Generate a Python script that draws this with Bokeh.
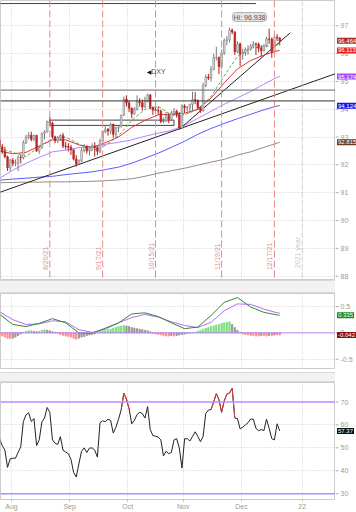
import math
import pandas as pd
from bokeh.plotting import figure
from bokeh.models import Range1d, FixedTicker, Span, Label, Div, ColumnDataSource
from bokeh.layouts import column, row
from bokeh.core.properties import value
from bokeh.embed import file_html
from bokeh.resources import INLINE

# ---------------- data ----------------
first_day = "2021-07-26"
last_day = "2021-12-21"

opens = [92.90, 92.65, 92.47, 92.29, 91.90,
         92.17, 92.06, 92.07, 92.27, 92.26, 92.80, 92.99, 93.07, 92.92, 93.06, 92.50, 92.62, 93.12, 93.19, 93.56,
         93.50, 93.01, 92.87, 92.98, 93.06, 92.68, 92.66,
         92.63, 92.54, 92.21, 92.03, 92.15, 92.52, 92.67, 92.50, 92.58, 92.66, 92.62, 92.49, 92.86, 93.20, 93.28,
         93.21, 93.46, 93.10, 93.33, 93.37, 93.78, 94.36,
         94.23, 94.04, 93.84, 94.00, 94.27, 94.23, 94.08, 94.31, 94.51, 94.06, 93.97, 93.96, 93.94, 93.56, 93.56,
         93.77, 93.64, 93.87, 93.93, 93.79, 93.33,
         94.12, 94.06, 94.06, 94.18, 94.35, 94.32, 94.06, 93.96, 94.85, 95.16, 95.12, 95.43, 95.86, 95.86, 95.53,
         96.03, 96.48, 96.49, 96.85, 96.78, 96.07, 96.35,
         95.99, 96.04, 96.15, 96.16, 96.27, 96.35, 96.34, 96.19, 96.10, 96.29, 96.53, 96.52, 96.06, 96.59, 96.56]
highs = [92.95, 92.75, 92.65, 92.33, 92.22,
         92.24, 92.20, 92.35, 92.36, 92.88, 93.08, 93.18, 93.19, 93.09, 93.08, 92.70, 93.17, 93.25, 93.59, 93.73,
         93.55, 93.05, 93.04, 93.10, 93.15, 92.82, 92.78,
         92.72, 92.56, 92.35, 92.20, 92.60, 92.75, 92.70, 92.64, 92.78, 92.82, 92.68, 92.94, 93.25, 93.44, 93.32,
         93.52, 93.48, 93.37, 93.42, 93.81, 94.46, 94.50,
         94.30, 94.06, 94.08, 94.50, 94.40, 94.35, 94.45, 94.56, 94.55, 94.10, 94.10, 94.10, 93.98, 93.70, 93.90,
         93.85, 93.95, 94.04, 93.98, 93.90, 94.18,
         94.18, 94.12, 94.20, 94.63, 94.62, 94.35, 94.10, 94.95, 95.25, 95.27, 95.55, 96.00, 96.25, 95.90, 96.15,
         96.55, 96.63, 96.938, 96.90, 96.80, 96.45, 96.40,
         96.18, 96.22, 96.30, 96.35, 96.45, 96.40, 96.40, 96.30, 96.35, 96.60, 96.90, 96.58, 96.70, 96.70, 96.60]
lows = [92.58, 92.40, 92.24, 91.78, 91.78,
        91.95, 91.95, 91.78, 92.05, 92.20, 92.75, 92.92, 92.85, 92.85, 92.47, 92.40, 92.58, 92.92, 93.16, 93.42,
        92.95, 92.78, 92.78, 92.85, 92.60, 92.55, 92.48,
        92.36, 92.16, 91.94, 92.00, 92.10, 92.45, 92.40, 92.34, 92.52, 92.30, 92.34, 92.42, 92.82, 93.13, 93.05,
        93.10, 92.98, 93.00, 93.17, 93.35, 93.76, 94.10,
        93.90, 93.68, 93.80, 93.95, 94.10, 93.95, 94.05, 94.25, 94.00, 93.80, 93.85, 93.80, 93.50, 93.50, 93.55,
        93.50, 93.58, 93.75, 93.70, 93.28, 93.30,
        93.87, 93.92, 93.85, 93.95, 94.18, 93.98, 93.87, 93.90, 94.80, 95.05, 95.00, 95.40, 95.75, 95.26, 95.45,
        95.95, 96.30, 96.40, 96.70, 95.95, 96.02, 95.55,
        95.78, 95.92, 95.96, 96.10, 96.20, 95.95, 96.05, 95.90, 96.08, 96.23, 96.35, 95.85, 96.00, 96.45, 96.30]
closes = [92.65, 92.47, 92.29, 91.90, 92.17,
          92.06, 92.07, 92.27, 92.26, 92.80, 92.99, 93.07, 92.92, 93.06, 92.50, 92.62, 93.12, 93.19, 93.56, 93.50,
          93.01, 92.87, 92.98, 93.06, 92.68, 92.66, 92.63,
          92.54, 92.21, 92.03, 92.15, 92.52, 92.67, 92.50, 92.58, 92.66, 92.62, 92.49, 92.86, 93.20, 93.28, 93.21,
          93.46, 93.10, 93.33, 93.37, 93.78, 94.36, 94.23,
          94.04, 93.84, 94.00, 94.27, 94.23, 94.08, 94.31, 94.51, 94.06, 93.97, 93.96, 93.94, 93.56, 93.56, 93.77,
          93.64, 93.87, 93.93, 93.79, 93.33, 94.12,
          94.06, 94.06, 94.18, 94.35, 94.32, 94.06, 93.96, 94.85, 95.16, 95.12, 95.43, 95.86, 95.86, 95.53, 96.03,
          96.48, 96.49, 96.85, 96.78, 96.07, 96.35, 95.99,
          96.04, 96.15, 96.16, 96.27, 96.35, 96.34, 96.19, 96.10, 96.29, 96.53, 96.52, 96.06, 96.59, 96.56, 96.464]

# moving averages, read weekly
ma_dates = ["2021-07-26", "2021-08-02", "2021-08-09", "2021-08-16", "2021-08-23", "2021-08-30",
            "2021-09-06", "2021-09-13", "2021-09-20", "2021-09-27", "2021-10-04", "2021-10-11",
            "2021-10-18", "2021-10-25", "2021-11-01", "2021-11-08", "2021-11-15", "2021-11-22",
            "2021-11-29", "2021-12-06", "2021-12-13", "2021-12-20", "2021-12-21"]
ma_red = [92.50, 92.40, 92.45, 92.68, 92.90, 92.90, 92.72, 92.62, 92.80, 93.00, 93.35, 93.60,
          93.80, 93.82, 93.86, 94.00, 94.40, 94.95, 95.45, 95.75, 95.95, 96.10, 96.113]
ma_green = [92.60, 92.45, 92.30, 92.65, 92.95, 93.00, 92.75, 92.50, 92.70, 93.05, 93.60, 94.00,
            94.10, 93.80, 93.80, 94.00, 94.45, 95.20, 95.90, 96.20, 96.25, 96.32, 96.33]
ma_purple = [91.52, 91.81, 92.06, 92.27, 92.47, 92.53, 92.62, 92.67, 92.74, 92.81, 92.90, 93.03,
             93.14, 93.24, 93.42, 93.67, 93.93, 94.18, 94.41, 94.64, 94.90, 95.15, 95.174]
ma_blue = [91.45, 91.49, 91.52, 91.56, 91.59, 91.65, 91.70, 91.75, 91.83, 91.92, 92.06, 92.24,
           92.42, 92.63, 92.85, 93.10, 93.31, 93.49, 93.66, 93.82, 93.98, 94.12, 94.124]
ma_brown = [91.36, 91.37, 91.38, 91.38, 91.39, 91.39, 91.40, 91.41, 91.43, 91.46, 91.50, 91.59,
            91.70, 91.79, 91.88, 91.99, 92.10, 92.20, 92.35, 92.47, 92.63, 92.78, 92.815]

macd_line = [0.35, 0.16, 0.12, 0.18, 0.27, 0.19, 0.00, -0.01, 0.09, 0.19, 0.36, 0.38,
             0.31, 0.19, 0.08, 0.11, 0.33, 0.58, 0.67, 0.49, 0.39, 0.34, 0.335]
macd_signal = [0.40, 0.25, 0.16, 0.17, 0.23, 0.21, 0.06, 0.01, 0.07, 0.19, 0.29, 0.35,
               0.30, 0.21, 0.14, 0.10, 0.20, 0.42, 0.55, 0.54, 0.45, 0.38, 0.377]
macd_hist = [-0.03, -0.06, -0.08, -0.10, -0.11,
             -0.10, -0.08, -0.05, -0.02,
             0.01, 0.03, 0.04, 0.04, 0.03, 0.02, 0.03, 0.05, 0.06,
             0.05, 0.04, 0.02, 0.01,
             -0.01, -0.03, -0.05, -0.06, -0.07, -0.08, -0.10, -0.12,
             -0.10, -0.08, -0.07, -0.05, -0.04, -0.03, -0.02,
             0.01, 0.03, 0.04, 0.05, 0.06, 0.07, 0.09, 0.10, 0.12, 0.13, 0.14, 0.13, 0.12,
             0.10, 0.09, 0.08, 0.07, 0.06, 0.05, 0.04, 0.02,
             -0.01, -0.02, -0.03, -0.04, -0.05, -0.06, -0.06, -0.05, -0.06, -0.05, -0.04, -0.03,
             -0.02, -0.01, -0.01, 0.00, 0.01,
             0.03, 0.05, 0.07, 0.09, 0.10, 0.12, 0.13, 0.15, 0.16, 0.18, 0.19, 0.20, 0.21,
             0.16, 0.10, 0.05, 0.01,
             -0.02, -0.03, -0.04, -0.05, -0.05, -0.06, -0.06, -0.05, -0.05, -0.06, -0.05, -0.05, -0.04, -0.04, -0.042]

rsi = [54, 51, 49, 41.5, 45.2,
       45.5, 45.5, 48, 50.5, 61.5, 64.4, 65.3, 61.5, 62.8, 51, 53.5, 61.3, 63, 67.6, 65.5,
       53.5, 52, 51.5, 54.9, 49, 48.2, 47.5,
       45, 39.3, 37.3, 43, 48.5, 50, 48, 49.9, 50, 49, 46, 61, 61.8, 61.4, 62.5,
       62, 56.5, 59, 62.5, 66.5, 73.9, 71.3,
       67, 60.5, 62, 64.5, 65.5, 65, 63, 68, 58, 55.4, 55.1, 54.7, 53.5, 46.5, 48.5,
       47.5, 48, 53.5, 54, 50, 41.2,
       54, 54, 53, 55, 57, 55, 52.7, 55, 65, 66.5, 66.7, 70, 73.6, 71, 65.5,
       70.5, 73.5, 73.9, 76, 63, 62.8, 58.3,
       59, 60, 61, 62.6, 62.5, 58.5, 57.5, 58, 57.5, 62.5, 58.5, 54, 53.5, 60.5, 57.37]

# drawn objects on the price pane
trend_start = ["2021-07-26", "2021-10-28"]
trend_start_val = [91.01, 93.28]
trend_end = ["2022-01-20", "2021-12-27"]
trend_end_val = [95.31, 96.75]
top_line_start, top_line_end, top_line_val = "2021-07-26", "2021-12-08", 97.80
levels = [94.69, 94.30]
range_start, range_end, range_top, range_bottom = "2021-08-20", "2021-10-26", 93.61, 93.42
expiry_dates = ["2021-08-20", "2021-09-17", "2021-10-15", "2021-11-19", "2021-12-17"]
expiry_labels = ["8/20/21", "9/17/21", "10/15/21", "11/19/21", "12/17/21"]
month_labels = ["Aug", "Sep", "Oct", "Nov", "Dec", "22"]
price_ticks = [88, 89, 90, 91, 92, 93, 94, 95, 96, 97]
macd_ticks = [-0.5, 0, 0.5]
rsi_ticks = [30, 40, 50, 60, 70]
hi_date, hi_value = "2021-11-24", 96.938
symbol_date, symbol_level = "2021-10-13", 95.36

# value tags on the right edge
price_tag_values = [92.815, 94.124, 95.174, 96.113, closes[-1]]
price_tag_texts = ["92.815", "94.124", "95.174", "96.113", "96.464"]
price_tag_colors = ["#6b3d1e", "#1414f0", "#a64cff", "#ee1c24", "#b0282c"]
macd_tag_values = [macd_line[-1], macd_hist[-1]]
macd_tag_texts = ["0.335", "-0.042"]
macd_tag_colors = ["#1d8a1d", "#8a1010"]
rsi_tag_values = [rsi[-1]]
rsi_tag_texts = ["57.37"]
rsi_tag_colors = ["#111111"]

# ---------------- positions ----------------
bdays = pd.bdate_range("2021-07-26", "2022-03-31")
pos = {d.strftime("%Y-%m-%d"): i - 5 for i, d in enumerate(bdays)}
bar_dates = [d.strftime("%Y-%m-%d") for d in pd.bdate_range(first_day, last_day)]
xs = [pos[d] for d in bar_dates]
ma_x = [pos[d] for d in ma_dates]

month_ticks = []
for (yy, mm) in [(2021, 8), (2021, 9), (2021, 10), (2021, 11), (2021, 12), (2022, 1)]:
    fd = [d for d in bdays if d.year == yy and d.month == mm][0]
    month_ticks.append(pos[fd.strftime("%Y-%m-%d")] - 0.5)
year_end_x = month_ticks[-1]

FONT = "Liberation Sans"
GRID = "#cfcfcf"
xr = Range1d(-4.66, 122.1)
MAIN_W = 335
STRIP_W = 21


def base_fig(height, yr, bottom=0, xaxis=None):
    p = figure(width=MAIN_W, height=height, x_range=xr, y_range=yr, output_backend="svg",
               toolbar_location=None, x_axis_location=xaxis, y_axis_location=None,
               min_border_left=0, min_border_right=0, min_border_top=0, min_border_bottom=bottom,
               background_fill_color="white", border_fill_color="white", outline_line_color="#cccccc")
    p.xgrid.ticker = FixedTicker(ticks=month_ticks)
    p.xgrid.grid_line_color = GRID
    p.xgrid.grid_line_dash = "1 2"
    p.ygrid.grid_line_color = GRID
    p.ygrid.grid_line_dash = "1 2"
    return p


def strip(height, yr, ticks, tag_vals, tag_texts, tag_colors, bottom=0):
    s = figure(width=STRIP_W, height=height, x_range=Range1d(0, STRIP_W), y_range=yr, output_backend="svg",
               toolbar_location=None, x_axis_location=None, y_axis_location=None,
               min_border_left=0, min_border_right=0, min_border_top=0, min_border_bottom=bottom,
               background_fill_color="white", border_fill_color="white", outline_line_color=None)
    s.grid.visible = False
    s.segment(x0=0, y0=ticks, x1=3, y1=ticks, line_color="#aaaaaa", line_width=1)
    s.text(x=5, y=ticks, text=[("%g" % t) for t in ticks], text_font=value(FONT), text_font_size="7px",
           text_color="#9a9a9a", text_baseline="middle", text_align="left")
    for v, t, c in zip(tag_vals, tag_texts, tag_colors):
        s.add_layout(Label(x=1.5, y=v, text=t, text_align="left", text_baseline="middle",
                           text_font=FONT, text_font_size="6px", text_color="white",
                           background_fill_color=c, padding=1))
    return s


# ---------------- price pane ----------------
price_range = Range1d(87.88, 97.91)
p1 = base_fig(280, price_range, bottom=1)
p1.ygrid.ticker = FixedTicker(ticks=price_ticks)

for d, lab in zip(expiry_dates, expiry_labels):
    p1.add_layout(Span(location=pos[d], dimension="height", line_color="#e58a8a", line_dash="7 3", line_width=1))
    p1.add_layout(Label(x=pos[d], y=88.22, text=lab, angle=math.pi / 2, text_align="left", text_baseline="bottom",
                        x_offset=-1, text_font=FONT, text_font_size="7px", text_color="#e09090"))
p1.add_layout(Span(location=year_end_x, dimension="height", line_color="#d4d4d4", line_dash="5 3", line_width=1))
p1.add_layout(Label(x=year_end_x, y=88.29, text="2021 year", angle=math.pi / 2, text_align="left",
                    text_baseline="bottom", x_offset=-1, text_font=FONT, text_font_size="7px", text_color="#c8c8c8"))

for lv, col in zip(levels, ["#666666", "#333333"]):
    p1.add_layout(Span(location=lv, dimension="width", line_color=col, line_width=1))
p1.segment(x0=[pos[top_line_start]], y0=[top_line_val], x1=[pos[top_line_end]], y1=[top_line_val],
           line_color="#444444", line_width=1)
p1.quad(left=[pos[range_start]], right=[pos[range_end]], top=[range_top], bottom=[range_bottom],
        fill_color=None, line_color="#444444", line_width=1)

p1.line(ma_x, ma_brown, line_color="#9a8a80", line_width=1)
p1.line(ma_x, ma_blue, line_color="#5a5aff", line_width=1)
p1.line(ma_x, ma_purple, line_color="#b784ff", line_width=1)
p1.segment(x0=[pos[d] for d in trend_start], y0=trend_start_val, x1=[pos[d] for d in trend_end], y1=trend_end_val,
           line_color="#222222", line_width=1)
p1.line(ma_x, ma_green, line_color="#3c9b3c", line_width=1, line_dash="3 2", line_alpha=0.85)
p1.line(ma_x, ma_red, line_color="#e8303a", line_width=1)

up = [c >= o for o, c in zip(opens, closes)]
csrc = ColumnDataSource(dict(
    x=xs, low=lows, high=highs,
    top=[max(o, c) for o, c in zip(opens, closes)],
    bottom=[min(o, c) for o, c in zip(opens, closes)],
    fill=["#e2e2e2" if u else "#c42a2a" for u in up],
    line=["#7a7a7a" if u else "#b02020" for u in up],
))
p1.segment(x0="x", y0="low", x1="x", y1="high", line_color="line", source=csrc, line_width=1)
p1.vbar(x="x", width=0.62, top="top", bottom="bottom", fill_color="fill", line_color="line", source=csrc,
        line_width=0.6)

p1.add_layout(Label(x=pos[hi_date], y=hi_value, text="Hi: " + str(hi_value), x_offset=3, y_offset=6,
                    text_align="left", text_baseline="bottom", text_font=FONT, text_font_size="7px",
                    text_color="#555555", background_fill_color="#e4e4e4", border_line_color="#b0b0b0",
                    padding=1, border_radius=3))
p1.add_layout(Label(x=pos[symbol_date], y=symbol_level, text="\u25c0", text_align="right", text_baseline="middle",
                    x_offset=1, text_font="DejaVu Sans", text_font_size="6px", text_color="#111111"))
p1.add_layout(Label(x=pos[symbol_date], y=symbol_level, text="DXY", text_align="left", text_baseline="middle",
                    x_offset=1, text_font=FONT, text_font_size="7px", text_color="#555555"))
s1 = strip(280, price_range, price_ticks, price_tag_values, price_tag_texts, price_tag_colors, bottom=1)

# ---------------- MACD pane ----------------
macd_range = Range1d(-0.676, 0.747)
p2 = base_fig(79, macd_range, bottom=4)
p2.ygrid.ticker = FixedTicker(ticks=[-0.5, 0.5])
hist_colors = []
for i, v in enumerate(macd_hist):
    prev = macd_hist[i - 1] if i > 0 else v
    if v >= 0:
        hist_colors.append("#7fe07f" if v >= prev else "#9a9a9a")
    else:
        hist_colors.append("#ff8f8f" if v <= prev else "#9a9a9a")
p2.vbar(x=xs, width=0.45, top=macd_hist, bottom=0, fill_color=hist_colors, line_color=hist_colors)
p2.add_layout(Span(location=0, dimension="width", line_color="#b57cf5", line_width=1))
p2.line(ma_x, macd_signal, line_color="#b46cf0", line_width=1)
p2.line(ma_x, macd_line, line_color="#2e8b2e", line_width=1)
s2 = strip(79, macd_range, macd_ticks, macd_tag_values, macd_tag_texts, macd_tag_colors, bottom=4)

# ---------------- RSI pane ----------------
rsi_range = Range1d(27.5, 78.5)
p3 = base_fig(130, rsi_range, bottom=12, xaxis="below")
p3.ygrid.ticker = FixedTicker(ticks=[40, 50, 60])
xa = p3.xaxis[0]
xa.ticker = FixedTicker(ticks=month_ticks)
xa.major_label_overrides = {t: lab for t, lab in zip(month_ticks, month_labels)}
xa.major_label_text_align = "left"
xa.major_label_text_font = FONT
xa.major_label_text_font_size = "7px"
xa.major_label_text_color = "#9a9a9a"
xa.major_tick_in = 0
xa.major_tick_out = 2
xa.major_tick_line_color = "#bbbbbb"
xa.minor_tick_line_color = None
xa.axis_line_color = "#cccccc"
xa.major_label_standoff = 1
p3.add_layout(Span(location=70, dimension="width", line_color="#b48cff", line_width=1.3))
p3.add_layout(Span(location=30, dimension="width", line_color="#b48cff", line_width=1.3))
p3.line(xs, rsi, line_color="#222222", line_width=1)
hx0, hy0, hx1, hy1 = [], [], [], []
for i in range(len(rsi) - 1):
    if max(rsi[i], rsi[i + 1]) > 69.5:
        hx0.append(xs[i]); hy0.append(rsi[i]); hx1.append(xs[i + 1]); hy1.append(rsi[i + 1])
p3.segment(x0=hx0, y0=hy0, x1=hx1, y1=hy1, line_color="#d43c3c", line_width=1)
s3 = strip(130, rsi_range, rsi_ticks, rsi_tag_values, rsi_tag_texts, rsi_tag_colors, bottom=12)

band_style = {"background-color": "#f2f2f2", "border-top": "1px solid #d8d8d8",
              "border-bottom": "1px solid #d8d8d8", "box-sizing": "border-box"}
band1 = Div(text="", width=MAIN_W, height=13, margin=0, styles=band_style)
band2 = Div(text="", width=MAIN_W, height=10, margin=0, styles=band_style)

layout = column(row(p1, s1, spacing=0), band1, row(p2, s2, spacing=0), band2, row(p3, s3, spacing=0), spacing=0)
open("out.html", "w").write(file_html(layout, INLINE))
